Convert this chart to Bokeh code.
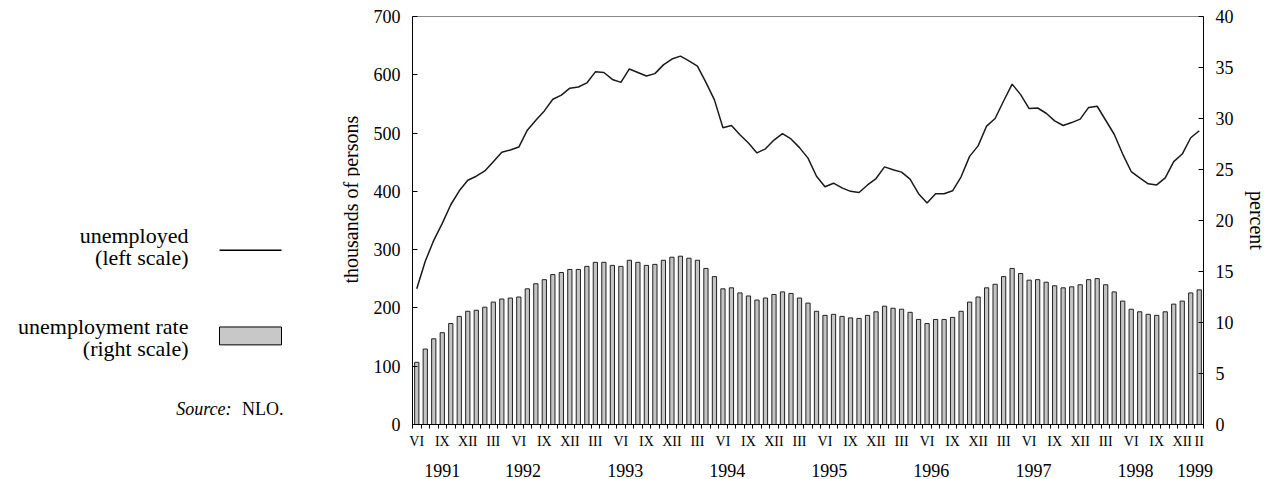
import math
from bokeh.plotting import figure
from bokeh.layouts import row
from bokeh.models import LinearAxis, Range1d, FixedTicker, ColumnDataSource
from bokeh.core.properties import value
from bokeh.embed import file_html
from bokeh.resources import INLINE

FONT = "Liberation Serif"

# ---- data -------------------------------------------------------------
start_year, start_month = 1991, 6          # June 1991 ... February 1999
roman = ["I", "II", "III", "IV", "V", "VI", "VII", "VIII", "IX", "X", "XI", "XII"]

# unemployed, thousands of persons (left scale)
unemployed = [233, 280, 316, 345, 377, 401, 419, 426, 435, 451, 467, 471, 476, 505, 522,
              538, 558, 565, 577, 579, 586, 605, 604, 592, 587, 610, 604, 598, 602, 617,
              627, 632, 624, 615, 587, 557, 509, 513, 497, 483, 466, 473, 488, 499, 490,
              475, 457, 426, 408, 414, 406, 400, 398, 411, 422, 442, 437, 433, 421, 396,
              380, 396, 396, 401, 425, 460, 478, 512, 525, 555, 584, 566, 542, 543, 534,
              521, 513, 518, 524, 544, 546, 522, 498, 464, 434, 423, 413, 411, 423, 451,
              464, 492, 504]

# unemployment rate, percent (right scale)
rate = [6.1, 7.4, 8.4, 9.0, 9.9, 10.6, 11.1, 11.2, 11.5, 12.0, 12.3, 12.4, 12.5, 13.3, 13.8,
        14.2, 14.7, 14.9, 15.2, 15.2, 15.5, 15.9, 15.9, 15.6, 15.5, 16.1, 15.9, 15.6, 15.7, 16.1,
        16.4, 16.5, 16.3, 16.1, 15.3, 14.5, 13.3, 13.4, 12.9, 12.6, 12.2, 12.4, 12.75, 13.0, 12.85,
        12.4, 11.9, 11.1, 10.7, 10.8, 10.6, 10.45, 10.4, 10.7, 11.05, 11.6, 11.4, 11.3, 11.0, 10.3,
        9.9, 10.3, 10.3, 10.5, 11.1, 12.0, 12.5, 13.4, 13.75, 14.5, 15.3, 14.8, 14.15, 14.2, 13.95,
        13.6, 13.4, 13.5, 13.7, 14.2, 14.3, 13.7, 13.0, 12.1, 11.3, 11.05, 10.8, 10.7, 11.05, 11.8,
        12.1, 12.9, 13.2]

left_ticks = [0, 100, 200, 300, 400, 500, 600, 700]
right_ticks = [0, 5, 10, 15, 20, 25, 30, 35, 40]

left_title = "thousands of persons"
right_title = "percent"
legend_line_text = ["unemployed", "(left scale)"]
legend_bar_text = ["unemployment rate", "(right scale)"]

# month / year bookkeeping
n = len(unemployed)
months = []
for k in range(n):
    m0 = start_month - 1 + k
    months.append((start_year + m0 // 12, m0 % 12 + 1))
xs = list(range(1, n + 1))

label_pos = [i for i, (y, m) in zip(xs, months) if m in (3, 6, 9, 12)]
if label_pos[-1] != xs[-1]:
    label_pos.append(xs[-1])
month_overrides = {i: roman[months[i - 1][1] - 1] for i in label_pos}

years = sorted(set(y for y, m in months))
year_pos = {}
for yr in years:
    idx = [i for i, (y, m) in zip(xs, months) if y == yr]
    year_pos[yr] = sum(idx) / len(idx)
year_overrides = {year_pos[yr]: str(yr) for yr in years}

src = ColumnDataSource(dict(x=xs, unemployed=unemployed, rate=rate))

H = 479
TOP, BOTTOM = 16, 53          # border sizes shared by both panels
FRAME_BOTTOM = H - BOTTOM     # page y of the frame bottom

# ---- legend panel (page-pixel coordinates, y downward) ------------------
LW = 360
lg = figure(width=LW, height=H, output_backend="svg", toolbar_location=None,
            x_range=Range1d(0, LW), y_range=Range1d(FRAME_BOTTOM, TOP),
            x_axis_location=None, y_axis_location=None,
            min_border=0, min_border_left=0, min_border_right=0,
            min_border_top=TOP, min_border_bottom=BOTTOM)
lg.outline_line_color = None
lg.xgrid.visible = False
lg.ygrid.visible = False
lg.background_fill_color = "white"
lg.border_fill_color = "white"

txt_kw = dict(text_align="right", text_baseline="alphabetic",
              text_font=value(FONT), text_color="black")
lg.text(x=[188, 188], y=[236, 258], text=legend_line_text, text_font_size="22px", **txt_kw)
lg.text(x=[188, 188], y=[328, 350], text=legend_bar_text, text_font_size="22px", **txt_kw)
lg.text(x=[231], y=[410], text=["Source:"], text_font_size="18px",
        text_font_style="italic", **txt_kw)
lg.text(x=[283], y=[410], text=["NLO."], text_font_size="18px", **txt_kw)
lg.line(x=[219, 281], y=[251, 251], line_color="black", line_width=1.5)
lg.quad(left=[219], right=[281], top=[328], bottom=[346],
        fill_color="#c8c8c8", line_color="black", line_width=1)
# left axis title (placed here so it can sit where the original puts it)
lg.text(x=[350], y=[200], text=[left_title], angle=math.pi / 2,
        text_align="center", text_baseline="middle", text_font=value(FONT),
        text_font_size="20px", text_color="black")

# ---- main chart --------------------------------------------------------
p = figure(width=1270 - LW, height=H, output_backend="svg", toolbar_location=None,
           x_range=Range1d(0.5, n + 0.5), y_range=Range1d(0, 700),
           min_border_left=412 - LW, min_border_right=66,
           min_border_top=TOP, min_border_bottom=BOTTOM)
p.extra_y_ranges = {"pct": Range1d(0, 40)}
p.xgrid.visible = False
p.ygrid.visible = False
p.outline_line_color = "#888888"
p.outline_line_width = 1
p.background_fill_color = "white"
p.border_fill_color = "white"

p.vbar(x="x", top="rate", width=0.5, y_range_name="pct", source=src,
       fill_color="#c4c4c4", line_color="#222222", line_width=1)
p.line(x="x", y="unemployed", source=src, line_color="#1a1a1a", line_width=1.5)

# left axis
la = p.yaxis[0]
la.ticker = FixedTicker(ticks=left_ticks)
la.major_tick_in = 5
la.major_tick_out = 0
la.minor_tick_line_color = None
la.axis_line_color = "black"
la.major_label_text_font = FONT
la.major_label_text_font_size = "18px"
la.major_label_text_color = "black"
la.major_label_standoff = 12

# right axis
ra = LinearAxis(y_range_name="pct", ticker=FixedTicker(ticks=right_ticks))
ra.major_tick_in = 5
ra.major_tick_out = 0
ra.minor_tick_line_color = None
ra.axis_line_color = "black"
ra.major_label_text_font = FONT
ra.major_label_text_font_size = "18px"
ra.major_label_text_color = "black"
ra.major_label_standoff = 12
ra.axis_label = right_title
ra.axis_label_text_font = FONT
ra.axis_label_text_font_size = "20px"
ra.axis_label_text_font_style = "normal"
ra.axis_label_text_color = "black"
ra.axis_label_standoff = 9
p.add_layout(ra, "right")

# bottom axis: months
ba = p.xaxis[0]
ba.ticker = FixedTicker(ticks=label_pos, minor_ticks=[i + 0.5 for i in range(0, n + 1)])
ba.major_label_overrides = month_overrides
ba.major_tick_in = 0
ba.major_tick_out = 0
ba.minor_tick_in = 0
ba.minor_tick_out = 4
ba.minor_tick_line_color = "black"
ba.axis_line_color = "black"
ba.major_label_text_font = FONT
ba.major_label_text_font_size = "14px"
ba.major_label_text_color = "black"
ba.major_label_standoff = 5

# bottom axis: years
ya = LinearAxis(ticker=FixedTicker(ticks=[year_pos[yr] for yr in years], minor_ticks=[]))
ya.major_label_overrides = year_overrides
ya.axis_line_color = None
ya.major_tick_line_color = None
ya.minor_tick_line_color = None
ya.major_tick_out = 0
ya.major_label_text_font = FONT
ya.major_label_text_font_size = "18px"
ya.major_label_text_color = "black"
ya.major_label_standoff = 12
p.add_layout(ya, "below")

layout = row(lg, p)
open("out.html", "w").write(file_html(layout, INLINE))
